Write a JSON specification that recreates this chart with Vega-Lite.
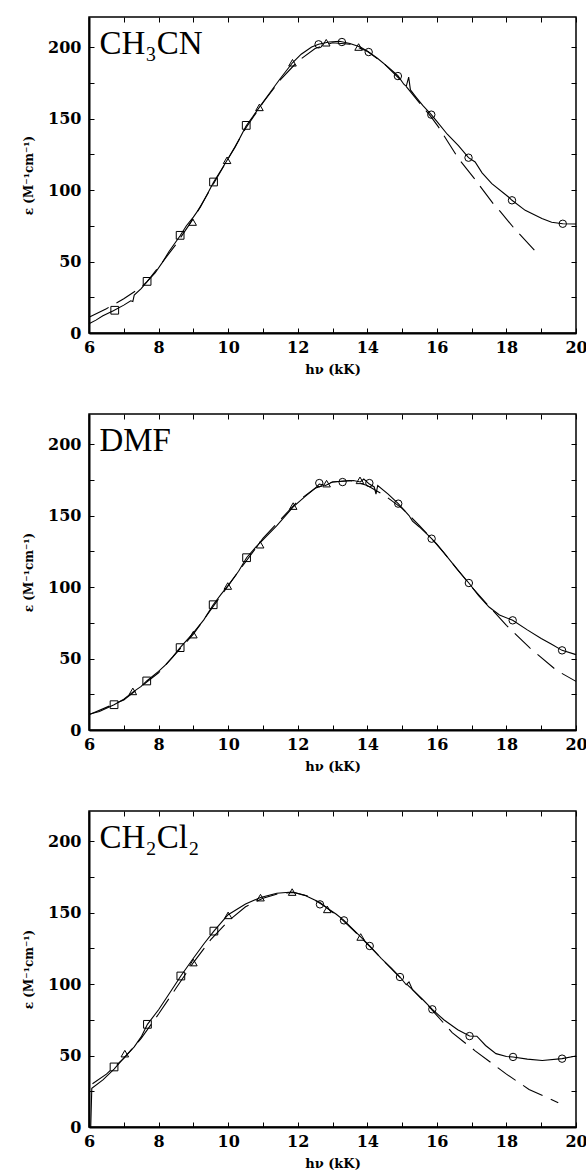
{
  "$schema": "https://vega.github.io/schema/vega-lite/v6.json",
  "padding": {"left": 21, "top": 15, "right": 6, "bottom": 0},
  "background": "white",
  "config": {
    "view": {"stroke": "black", "strokeWidth": 1.5},
    "axis": {"grid": false, "labelFlush": false, "labelOverlap": false, "labelBound": false}
  },
  "data": {"values": [
    {"panel":1,"series":"label","label":"CH₃CN"},
    {"panel":2,"series":"label","label":"DMF"},
    {"panel":3,"series":"label","label":"CH₂Cl₂"},

    {"panel":1,"series":"exp","hv":6.0,"eps":6.5},
    {"panel":1,"series":"exp","hv":6.2,"eps":9},
    {"panel":1,"series":"exp","hv":6.4,"eps":12},
    {"panel":1,"series":"exp","hv":6.7,"eps":15.5},
    {"panel":1,"series":"exp","hv":7.0,"eps":19.5},
    {"panel":1,"series":"exp","hv":7.2,"eps":22.5},
    {"panel":1,"series":"exp","hv":7.26,"eps":22},
    {"panel":1,"series":"exp","hv":7.3,"eps":26.5},
    {"panel":1,"series":"exp","hv":7.5,"eps":31},
    {"panel":1,"series":"exp","hv":7.67,"eps":36},
    {"panel":1,"series":"exp","hv":7.9,"eps":42},
    {"panel":1,"series":"exp","hv":8.1,"eps":49},
    {"panel":1,"series":"exp","hv":8.3,"eps":57},
    {"panel":1,"series":"exp","hv":8.62,"eps":68},
    {"panel":1,"series":"exp","hv":8.8,"eps":75},
    {"panel":1,"series":"exp","hv":9.0,"eps":81},
    {"panel":1,"series":"exp","hv":9.2,"eps":88},
    {"panel":1,"series":"exp","hv":9.4,"eps":97},
    {"panel":1,"series":"exp","hv":9.58,"eps":105.5},
    {"panel":1,"series":"exp","hv":9.8,"eps":114},
    {"panel":1,"series":"exp","hv":10.0,"eps":122},
    {"panel":1,"series":"exp","hv":10.2,"eps":130},
    {"panel":1,"series":"exp","hv":10.52,"eps":145},
    {"panel":1,"series":"exp","hv":10.7,"eps":151},
    {"panel":1,"series":"exp","hv":10.9,"eps":158},
    {"panel":1,"series":"exp","hv":11.2,"eps":168},
    {"panel":1,"series":"exp","hv":11.5,"eps":178},
    {"panel":1,"series":"exp","hv":11.85,"eps":189},
    {"panel":1,"series":"exp","hv":12.1,"eps":195},
    {"panel":1,"series":"exp","hv":12.4,"eps":200},
    {"panel":1,"series":"exp","hv":12.6,"eps":202},
    {"panel":1,"series":"exp","hv":12.9,"eps":203.5},
    {"panel":1,"series":"exp","hv":13.2,"eps":204},
    {"panel":1,"series":"exp","hv":13.5,"eps":202.5},
    {"panel":1,"series":"exp","hv":13.8,"eps":200},
    {"panel":1,"series":"exp","hv":14.04,"eps":196.5},
    {"panel":1,"series":"exp","hv":14.3,"eps":192},
    {"panel":1,"series":"exp","hv":14.6,"eps":186},
    {"panel":1,"series":"exp","hv":14.88,"eps":180},
    {"panel":1,"series":"exp","hv":15.05,"eps":174},
    {"panel":1,"series":"exp","hv":15.12,"eps":172.5},
    {"panel":1,"series":"exp","hv":15.19,"eps":179},
    {"panel":1,"series":"exp","hv":15.24,"eps":170},
    {"panel":1,"series":"exp","hv":15.4,"eps":165},
    {"panel":1,"series":"exp","hv":15.6,"eps":159},
    {"panel":1,"series":"exp","hv":15.84,"eps":152.7},
    {"panel":1,"series":"exp","hv":16.0,"eps":148},
    {"panel":1,"series":"exp","hv":16.3,"eps":139},
    {"panel":1,"series":"exp","hv":16.62,"eps":131},
    {"panel":1,"series":"exp","hv":16.91,"eps":122.6},
    {"panel":1,"series":"exp","hv":17.1,"eps":119.6},
    {"panel":1,"series":"exp","hv":17.3,"eps":112},
    {"panel":1,"series":"exp","hv":17.58,"eps":104.4},
    {"panel":1,"series":"exp","hv":18.06,"eps":95.1},
    {"panel":1,"series":"exp","hv":18.16,"eps":92.8},
    {"panel":1,"series":"exp","hv":18.54,"eps":85.8},
    {"panel":1,"series":"exp","hv":19.02,"eps":80},
    {"panel":1,"series":"exp","hv":19.3,"eps":77.5},
    {"panel":1,"series":"exp","hv":19.62,"eps":76.4},
    {"panel":1,"series":"exp","hv":20.0,"eps":76.2},

    {"panel":1,"series":"fit","hv":6.0,"eps":11},
    {"panel":1,"series":"fit","hv":6.5,"eps":17},
    {"panel":1,"series":"fit","hv":7.0,"eps":24},
    {"panel":1,"series":"fit","hv":7.5,"eps":32},
    {"panel":1,"series":"fit","hv":7.67,"eps":36},
    {"panel":1,"series":"fit","hv":8.0,"eps":46},
    {"panel":1,"series":"fit","hv":8.5,"eps":62},
    {"panel":1,"series":"fit","hv":9.0,"eps":80},
    {"panel":1,"series":"fit","hv":9.5,"eps":101},
    {"panel":1,"series":"fit","hv":10.0,"eps":122},
    {"panel":1,"series":"fit","hv":10.5,"eps":143},
    {"panel":1,"series":"fit","hv":11.0,"eps":161},
    {"panel":1,"series":"fit","hv":11.5,"eps":177},
    {"panel":1,"series":"fit","hv":12.0,"eps":190},
    {"panel":1,"series":"fit","hv":12.5,"eps":199},
    {"panel":1,"series":"fit","hv":13.0,"eps":203},
    {"panel":1,"series":"fit","hv":13.5,"eps":202},
    {"panel":1,"series":"fit","hv":14.0,"eps":197},
    {"panel":1,"series":"fit","hv":14.5,"eps":188},
    {"panel":1,"series":"fit","hv":15.0,"eps":176},
    {"panel":1,"series":"fit","hv":15.5,"eps":161},
    {"panel":1,"series":"fit","hv":15.84,"eps":151},
    {"panel":1,"series":"fit","hv":16.05,"eps":144},
    {"panel":1,"series":"fit","hv":16.62,"eps":122},
    {"panel":1,"series":"fit","hv":17.08,"eps":108},
    {"panel":1,"series":"fit","hv":17.62,"eps":90.4},
    {"panel":1,"series":"fit","hv":17.82,"eps":85},
    {"panel":1,"series":"fit","hv":18.23,"eps":73},
    {"panel":1,"series":"fit","hv":18.88,"eps":56},

    {"panel":1,"series":"square","hv":6.74,"eps":15.9},
    {"panel":1,"series":"square","hv":7.67,"eps":36.1},
    {"panel":1,"series":"square","hv":8.62,"eps":68.3},
    {"panel":1,"series":"square","hv":9.58,"eps":105.6},
    {"panel":1,"series":"square","hv":10.52,"eps":145.2},
    {"panel":1,"series":"triangle","hv":8.98,"eps":77.6},
    {"panel":1,"series":"triangle","hv":9.97,"eps":120.8},
    {"panel":1,"series":"triangle","hv":10.9,"eps":157.8},
    {"panel":1,"series":"triangle","hv":11.85,"eps":189},
    {"panel":1,"series":"triangle","hv":12.82,"eps":203},
    {"panel":1,"series":"triangle","hv":13.75,"eps":200},
    {"panel":1,"series":"circle","hv":12.6,"eps":201.9},
    {"panel":1,"series":"circle","hv":13.27,"eps":203.5},
    {"panel":1,"series":"circle","hv":14.04,"eps":196.5},
    {"panel":1,"series":"circle","hv":14.88,"eps":179.7},
    {"panel":1,"series":"circle","hv":15.84,"eps":152.7},
    {"panel":1,"series":"circle","hv":16.91,"eps":122.6},
    {"panel":1,"series":"circle","hv":18.16,"eps":92.8},
    {"panel":1,"series":"circle","hv":19.62,"eps":76.4},

    {"panel":2,"series":"exp","hv":6.0,"eps":11},
    {"panel":2,"series":"exp","hv":6.3,"eps":13},
    {"panel":2,"series":"exp","hv":6.72,"eps":17.7},
    {"panel":2,"series":"exp","hv":7.0,"eps":21.5},
    {"panel":2,"series":"exp","hv":7.26,"eps":26.5},
    {"panel":2,"series":"exp","hv":7.5,"eps":30.5},
    {"panel":2,"series":"exp","hv":7.66,"eps":34.3},
    {"panel":2,"series":"exp","hv":8.0,"eps":41},
    {"panel":2,"series":"exp","hv":8.2,"eps":45.5},
    {"panel":2,"series":"exp","hv":8.4,"eps":51},
    {"panel":2,"series":"exp","hv":8.62,"eps":57.6},
    {"panel":2,"series":"exp","hv":9.0,"eps":68},
    {"panel":2,"series":"exp","hv":9.3,"eps":77},
    {"panel":2,"series":"exp","hv":9.57,"eps":87.6},
    {"panel":2,"series":"exp","hv":9.8,"eps":95},
    {"panel":2,"series":"exp","hv":10.0,"eps":101},
    {"panel":2,"series":"exp","hv":10.3,"eps":111},
    {"panel":2,"series":"exp","hv":10.53,"eps":120.5},
    {"panel":2,"series":"exp","hv":10.8,"eps":128},
    {"panel":2,"series":"exp","hv":11.0,"eps":133},
    {"panel":2,"series":"exp","hv":11.4,"eps":143},
    {"panel":2,"series":"exp","hv":11.87,"eps":156},
    {"panel":2,"series":"exp","hv":12.2,"eps":163},
    {"panel":2,"series":"exp","hv":12.5,"eps":169},
    {"panel":2,"series":"exp","hv":12.62,"eps":172},
    {"panel":2,"series":"exp","hv":12.8,"eps":171},
    {"panel":2,"series":"exp","hv":13.0,"eps":173.5},
    {"panel":2,"series":"exp","hv":13.3,"eps":174},
    {"panel":2,"series":"exp","hv":13.6,"eps":174.5},
    {"panel":2,"series":"exp","hv":13.8,"eps":173.5},
    {"panel":2,"series":"exp","hv":13.9,"eps":175.5},
    {"panel":2,"series":"exp","hv":14.06,"eps":172},
    {"panel":2,"series":"exp","hv":14.2,"eps":170},
    {"panel":2,"series":"exp","hv":14.25,"eps":165},
    {"panel":2,"series":"exp","hv":14.3,"eps":171},
    {"panel":2,"series":"exp","hv":14.6,"eps":165},
    {"panel":2,"series":"exp","hv":14.89,"eps":158.3},
    {"panel":2,"series":"exp","hv":15.2,"eps":150},
    {"panel":2,"series":"exp","hv":15.3,"eps":146},
    {"panel":2,"series":"exp","hv":15.5,"eps":142},
    {"panel":2,"series":"exp","hv":15.85,"eps":133.8},
    {"panel":2,"series":"exp","hv":16.2,"eps":124},
    {"panel":2,"series":"exp","hv":16.6,"eps":112},
    {"panel":2,"series":"exp","hv":16.92,"eps":102.8},
    {"panel":2,"series":"exp","hv":17.2,"eps":94},
    {"panel":2,"series":"exp","hv":17.5,"eps":86},
    {"panel":2,"series":"exp","hv":17.8,"eps":80.5},
    {"panel":2,"series":"exp","hv":18.18,"eps":76.7},
    {"panel":2,"series":"exp","hv":18.6,"eps":70},
    {"panel":2,"series":"exp","hv":19.0,"eps":64},
    {"panel":2,"series":"exp","hv":19.3,"eps":60},
    {"panel":2,"series":"exp","hv":19.6,"eps":55.7},
    {"panel":2,"series":"exp","hv":20.0,"eps":52.7},

    {"panel":2,"series":"fit","hv":6.0,"eps":10.7},
    {"panel":2,"series":"fit","hv":7.0,"eps":21},
    {"panel":2,"series":"fit","hv":8.0,"eps":40},
    {"panel":2,"series":"fit","hv":9.0,"eps":67},
    {"panel":2,"series":"fit","hv":10.0,"eps":101},
    {"panel":2,"series":"fit","hv":11.0,"eps":134},
    {"panel":2,"series":"fit","hv":12.0,"eps":160},
    {"panel":2,"series":"fit","hv":12.5,"eps":169},
    {"panel":2,"series":"fit","hv":13.0,"eps":173.5},
    {"panel":2,"series":"fit","hv":13.5,"eps":174.5},
    {"panel":2,"series":"fit","hv":14.0,"eps":171},
    {"panel":2,"series":"fit","hv":14.5,"eps":164},
    {"panel":2,"series":"fit","hv":15.0,"eps":155},
    {"panel":2,"series":"fit","hv":15.5,"eps":143},
    {"panel":2,"series":"fit","hv":16.0,"eps":130},
    {"panel":2,"series":"fit","hv":16.5,"eps":115},
    {"panel":2,"series":"fit","hv":17.0,"eps":100},
    {"panel":2,"series":"fit","hv":17.5,"eps":86.5},
    {"panel":2,"series":"fit","hv":18.0,"eps":73.2},
    {"panel":2,"series":"fit","hv":18.68,"eps":57.3},
    {"panel":2,"series":"fit","hv":19.44,"eps":41.7},
    {"panel":2,"series":"fit","hv":20.0,"eps":34},

    {"panel":2,"series":"square","hv":6.72,"eps":17.7},
    {"panel":2,"series":"square","hv":7.66,"eps":34.3},
    {"panel":2,"series":"square","hv":8.62,"eps":57.6},
    {"panel":2,"series":"square","hv":9.57,"eps":87.6},
    {"panel":2,"series":"square","hv":10.53,"eps":120.5},
    {"panel":2,"series":"triangle","hv":7.26,"eps":27},
    {"panel":2,"series":"triangle","hv":9.0,"eps":66.7},
    {"panel":2,"series":"triangle","hv":9.99,"eps":100.7},
    {"panel":2,"series":"triangle","hv":10.92,"eps":129.6},
    {"panel":2,"series":"triangle","hv":11.87,"eps":156.6},
    {"panel":2,"series":"triangle","hv":12.83,"eps":172.3},
    {"panel":2,"series":"triangle","hv":13.79,"eps":174.6},
    {"panel":2,"series":"circle","hv":12.62,"eps":172.7},
    {"panel":2,"series":"circle","hv":13.29,"eps":173.4},
    {"panel":2,"series":"circle","hv":14.06,"eps":172.7},
    {"panel":2,"series":"circle","hv":14.89,"eps":158.3},
    {"panel":2,"series":"circle","hv":15.85,"eps":133.8},
    {"panel":2,"series":"circle","hv":16.92,"eps":102.8},
    {"panel":2,"series":"circle","hv":18.18,"eps":76.7},
    {"panel":2,"series":"circle","hv":19.6,"eps":55.7},

    {"panel":3,"series":"exp","hv":6.05,"eps":0},
    {"panel":3,"series":"exp","hv":6.08,"eps":27},
    {"panel":3,"series":"exp","hv":6.4,"eps":33},
    {"panel":3,"series":"exp","hv":6.72,"eps":40.5},
    {"panel":3,"series":"exp","hv":7.03,"eps":49},
    {"panel":3,"series":"exp","hv":7.3,"eps":56},
    {"panel":3,"series":"exp","hv":7.5,"eps":63},
    {"panel":3,"series":"exp","hv":7.68,"eps":71.8},
    {"panel":3,"series":"exp","hv":8.0,"eps":82},
    {"panel":3,"series":"exp","hv":8.3,"eps":93},
    {"panel":3,"series":"exp","hv":8.64,"eps":105.6},
    {"panel":3,"series":"exp","hv":9.0,"eps":118},
    {"panel":3,"series":"exp","hv":9.3,"eps":128},
    {"panel":3,"series":"exp","hv":9.59,"eps":137},
    {"panel":3,"series":"exp","hv":9.8,"eps":143},
    {"panel":3,"series":"exp","hv":10.0,"eps":148.5},
    {"panel":3,"series":"exp","hv":10.5,"eps":156},
    {"panel":3,"series":"exp","hv":10.93,"eps":160.5},
    {"panel":3,"series":"exp","hv":11.4,"eps":163.5},
    {"panel":3,"series":"exp","hv":11.84,"eps":164.3},
    {"panel":3,"series":"exp","hv":12.2,"eps":162},
    {"panel":3,"series":"exp","hv":12.64,"eps":157},
    {"panel":3,"series":"exp","hv":12.85,"eps":153},
    {"panel":3,"series":"exp","hv":13.1,"eps":149},
    {"panel":3,"series":"exp","hv":13.33,"eps":144.5},
    {"panel":3,"series":"exp","hv":13.6,"eps":138},
    {"panel":3,"series":"exp","hv":13.81,"eps":132.9},
    {"panel":3,"series":"exp","hv":14.07,"eps":126.6},
    {"panel":3,"series":"exp","hv":14.4,"eps":118},
    {"panel":3,"series":"exp","hv":14.7,"eps":111},
    {"panel":3,"series":"exp","hv":14.94,"eps":104.9},
    {"panel":3,"series":"exp","hv":15.12,"eps":99.5},
    {"panel":3,"series":"exp","hv":15.2,"eps":101.5},
    {"panel":3,"series":"exp","hv":15.3,"eps":96},
    {"panel":3,"series":"exp","hv":15.6,"eps":89},
    {"panel":3,"series":"exp","hv":15.87,"eps":82.3},
    {"panel":3,"series":"exp","hv":16.2,"eps":75},
    {"panel":3,"series":"exp","hv":16.6,"eps":68},
    {"panel":3,"series":"exp","hv":16.94,"eps":63.6},
    {"panel":3,"series":"exp","hv":17.15,"eps":63.5},
    {"panel":3,"series":"exp","hv":17.4,"eps":57},
    {"panel":3,"series":"exp","hv":17.7,"eps":51.3},
    {"panel":3,"series":"exp","hv":18.0,"eps":49.3},
    {"panel":3,"series":"exp","hv":18.19,"eps":49},
    {"panel":3,"series":"exp","hv":18.6,"eps":47.5},
    {"panel":3,"series":"exp","hv":19.03,"eps":46.5},
    {"panel":3,"series":"exp","hv":19.6,"eps":47.8},
    {"panel":3,"series":"exp","hv":20.0,"eps":49.7},

    {"panel":3,"series":"fit","hv":6.1,"eps":30.3},
    {"panel":3,"series":"fit","hv":6.5,"eps":37},
    {"panel":3,"series":"fit","hv":7.0,"eps":48},
    {"panel":3,"series":"fit","hv":7.5,"eps":62},
    {"panel":3,"series":"fit","hv":8.0,"eps":79},
    {"panel":3,"series":"fit","hv":8.5,"eps":97},
    {"panel":3,"series":"fit","hv":9.0,"eps":115},
    {"panel":3,"series":"fit","hv":9.5,"eps":131},
    {"panel":3,"series":"fit","hv":10.0,"eps":144},
    {"panel":3,"series":"fit","hv":10.5,"eps":154},
    {"panel":3,"series":"fit","hv":11.0,"eps":160},
    {"panel":3,"series":"fit","hv":11.5,"eps":163.5},
    {"panel":3,"series":"fit","hv":11.9,"eps":164},
    {"panel":3,"series":"fit","hv":12.3,"eps":161.5},
    {"panel":3,"series":"fit","hv":12.8,"eps":154},
    {"panel":3,"series":"fit","hv":13.3,"eps":144.5},
    {"panel":3,"series":"fit","hv":13.8,"eps":133},
    {"panel":3,"series":"fit","hv":14.3,"eps":120.5},
    {"panel":3,"series":"fit","hv":14.8,"eps":108},
    {"panel":3,"series":"fit","hv":15.3,"eps":96},
    {"panel":3,"series":"fit","hv":15.8,"eps":83.5},
    {"panel":3,"series":"fit","hv":16.44,"eps":66},
    {"panel":3,"series":"fit","hv":17.11,"eps":53.1},
    {"panel":3,"series":"fit","hv":17.98,"eps":37.3},
    {"panel":3,"series":"fit","hv":18.65,"eps":26.3},
    {"panel":3,"series":"fit","hv":19.49,"eps":17},

    {"panel":3,"series":"square","hv":6.72,"eps":42},
    {"panel":3,"series":"square","hv":7.68,"eps":71.8},
    {"panel":3,"series":"square","hv":8.64,"eps":105.6},
    {"panel":3,"series":"square","hv":9.59,"eps":137},
    {"panel":3,"series":"triangle","hv":7.03,"eps":51.3},
    {"panel":3,"series":"triangle","hv":9.0,"eps":115},
    {"panel":3,"series":"triangle","hv":10.0,"eps":148},
    {"panel":3,"series":"triangle","hv":10.93,"eps":160.4},
    {"panel":3,"series":"triangle","hv":11.84,"eps":164.3},
    {"panel":3,"series":"triangle","hv":12.85,"eps":152.2},
    {"panel":3,"series":"triangle","hv":13.81,"eps":132.9},
    {"panel":3,"series":"circle","hv":12.64,"eps":155.7},
    {"panel":3,"series":"circle","hv":13.33,"eps":144.5},
    {"panel":3,"series":"circle","hv":14.07,"eps":126.6},
    {"panel":3,"series":"circle","hv":14.94,"eps":104.9},
    {"panel":3,"series":"circle","hv":15.87,"eps":82.3},
    {"panel":3,"series":"circle","hv":16.94,"eps":63.6},
    {"panel":3,"series":"circle","hv":18.19,"eps":49},
    {"panel":3,"series":"circle","hv":19.6,"eps":47.8}
  ]},
  "spacing": 35,
  "vconcat": [
    {
      "width": 487, "height": 316,
      "layer": [
        {"transform": [{"filter": "datum.panel == 1 && datum.series == 'exp'"}],
         "mark": {"type": "line", "color": "black", "strokeWidth": 1.1},
         "encoding": {
           "x": {"field": "hv", "type": "quantitative", "scale": {"domain": [6, 20], "nice": false, "zero": false},
                 "axis": {"orient": "bottom", "values": [6,7,8,9,10,11,12,13,14,15,16,17,18,19,20], "labelExpr": "datum.value % 2 == 0 ? datum.label : ''", "tickSize": -5, "tickColor": "black", "domainColor": "black", "domainWidth": 2, "labelFont": "DejaVu Serif", "labelFontWeight": "bold", "labelFontSize": 16, "labelColor": "black", "labelPadding": 11, "title": "hν (kK)", "titleFont": "DejaVu Serif", "titleFontWeight": "bold", "titleFontSize": 13, "titleColor": "black", "titlePadding": 8}},
           "y": {"field": "eps", "type": "quantitative", "scale": {"domain": [0, 221], "nice": false},
                 "axis": {"orient": "left", "values": [0,25,50,75,100,125,150,175,200], "labelExpr": "datum.value % 50 == 0 ? datum.label : ''", "tickSize": -5, "tickColor": "black", "domainColor": "black", "domainWidth": 2, "labelFont": "DejaVu Serif", "labelFontWeight": "bold", "labelFontSize": 16, "labelColor": "black", "labelPadding": 13, "title": "ε (M⁻¹cm⁻¹)", "titleFont": "DejaVu Serif", "titleFontWeight": "bold", "titleFontSize": 12, "titleColor": "black", "titlePadding": 12}}
         }},
        {"transform": [{"filter": "datum.panel == 1 && datum.series == 'fit'"}],
         "mark": {"type": "line", "color": "black", "strokeWidth": 1.1, "strokeDash": [22, 9]},
         "encoding": {
           "x": {"field": "hv", "type": "quantitative", "axis": {"orient": "top", "values": [6,7,8,9,10,11,12,13,14,15,16,17,18,19,20], "labels": false, "domain": false, "tickSize": -5, "tickColor": "black", "title": null}},
           "y": {"field": "eps", "type": "quantitative", "axis": {"orient": "right", "values": [0,25,50,75,100,125,150,175,200], "labels": false, "domain": false, "tickSize": -5, "tickColor": "black", "title": null}}
         }},
        {"transform": [{"filter": "datum.panel == 1 && (datum.series == 'square' || datum.series == 'triangle' || datum.series == 'circle')"}],
         "mark": {"type": "point", "filled": false, "color": "black", "strokeWidth": 1, "opacity": 1},
         "encoding": {
           "x": {"field": "hv", "type": "quantitative", "axis": null},
           "y": {"field": "eps", "type": "quantitative", "axis": null},
           "shape": {"field": "series", "type": "nominal", "scale": {"domain": ["square", "triangle", "circle"], "range": ["square", "triangle-up", "circle"]}, "legend": null},
           "size": {"field": "series", "type": "nominal", "scale": {"domain": ["square", "triangle", "circle"], "range": [60, 55, 48]}, "legend": null}
         }},
        {"transform": [{"filter": "datum.panel == 1 && datum.series == 'label'"}],
         "mark": {"type": "text", "font": "Liberation Serif", "fontSize": 33, "align": "left", "baseline": "alphabetic", "color": "black"},
         "encoding": {
           "x": {"datum": 6.3, "type": "quantitative", "axis": null},
           "y": {"datum": 195, "type": "quantitative", "axis": null},
           "text": {"field": "label", "type": "nominal"}
         }}
      ],
      "resolve": {"axis": {"x": "independent", "y": "independent"}}
    },
    {
      "width": 487, "height": 316,
      "layer": [
        {"transform": [{"filter": "datum.panel == 2 && datum.series == 'exp'"}],
         "mark": {"type": "line", "color": "black", "strokeWidth": 1.1},
         "encoding": {
           "x": {"field": "hv", "type": "quantitative", "scale": {"domain": [6, 20], "nice": false, "zero": false},
                 "axis": {"orient": "bottom", "values": [6,7,8,9,10,11,12,13,14,15,16,17,18,19,20], "labelExpr": "datum.value % 2 == 0 ? datum.label : ''", "tickSize": -5, "tickColor": "black", "domainColor": "black", "domainWidth": 2, "labelFont": "DejaVu Serif", "labelFontWeight": "bold", "labelFontSize": 16, "labelColor": "black", "labelPadding": 11, "title": "hν (kK)", "titleFont": "DejaVu Serif", "titleFontWeight": "bold", "titleFontSize": 13, "titleColor": "black", "titlePadding": 8}},
           "y": {"field": "eps", "type": "quantitative", "scale": {"domain": [0, 221], "nice": false},
                 "axis": {"orient": "left", "values": [0,25,50,75,100,125,150,175,200], "labelExpr": "datum.value % 50 == 0 ? datum.label : ''", "tickSize": -5, "tickColor": "black", "domainColor": "black", "domainWidth": 2, "labelFont": "DejaVu Serif", "labelFontWeight": "bold", "labelFontSize": 16, "labelColor": "black", "labelPadding": 13, "title": "ε (M⁻¹cm⁻¹)", "titleFont": "DejaVu Serif", "titleFontWeight": "bold", "titleFontSize": 12, "titleColor": "black", "titlePadding": 12}}
         }},
        {"transform": [{"filter": "datum.panel == 2 && datum.series == 'fit'"}],
         "mark": {"type": "line", "color": "black", "strokeWidth": 1.1, "strokeDash": [22, 9]},
         "encoding": {
           "x": {"field": "hv", "type": "quantitative", "axis": {"orient": "top", "values": [6,7,8,9,10,11,12,13,14,15,16,17,18,19,20], "labels": false, "domain": false, "tickSize": -5, "tickColor": "black", "title": null}},
           "y": {"field": "eps", "type": "quantitative", "axis": {"orient": "right", "values": [0,25,50,75,100,125,150,175,200], "labels": false, "domain": false, "tickSize": -5, "tickColor": "black", "title": null}}
         }},
        {"transform": [{"filter": "datum.panel == 2 && (datum.series == 'square' || datum.series == 'triangle' || datum.series == 'circle')"}],
         "mark": {"type": "point", "filled": false, "color": "black", "strokeWidth": 1, "opacity": 1},
         "encoding": {
           "x": {"field": "hv", "type": "quantitative", "axis": null},
           "y": {"field": "eps", "type": "quantitative", "axis": null},
           "shape": {"field": "series", "type": "nominal", "scale": {"domain": ["square", "triangle", "circle"], "range": ["square", "triangle-up", "circle"]}, "legend": null},
           "size": {"field": "series", "type": "nominal", "scale": {"domain": ["square", "triangle", "circle"], "range": [60, 55, 48]}, "legend": null}
         }},
        {"transform": [{"filter": "datum.panel == 2 && datum.series == 'label'"}],
         "mark": {"type": "text", "font": "Liberation Serif", "fontSize": 33, "align": "left", "baseline": "alphabetic", "color": "black"},
         "encoding": {
           "x": {"datum": 6.3, "type": "quantitative", "axis": null},
           "y": {"datum": 195, "type": "quantitative", "axis": null},
           "text": {"field": "label", "type": "nominal"}
         }}
      ],
      "resolve": {"axis": {"x": "independent", "y": "independent"}}
    },
    {
      "width": 487, "height": 316,
      "layer": [
        {"transform": [{"filter": "datum.panel == 3 && datum.series == 'exp'"}],
         "mark": {"type": "line", "color": "black", "strokeWidth": 1.1},
         "encoding": {
           "x": {"field": "hv", "type": "quantitative", "scale": {"domain": [6, 20], "nice": false, "zero": false},
                 "axis": {"orient": "bottom", "values": [6,7,8,9,10,11,12,13,14,15,16,17,18,19,20], "labelExpr": "datum.value % 2 == 0 ? datum.label : ''", "tickSize": -5, "tickColor": "black", "domainColor": "black", "domainWidth": 2, "labelFont": "DejaVu Serif", "labelFontWeight": "bold", "labelFontSize": 16, "labelColor": "black", "labelPadding": 11, "title": "hν (kK)", "titleFont": "DejaVu Serif", "titleFontWeight": "bold", "titleFontSize": 13, "titleColor": "black", "titlePadding": 8}},
           "y": {"field": "eps", "type": "quantitative", "scale": {"domain": [0, 221], "nice": false},
                 "axis": {"orient": "left", "values": [0,25,50,75,100,125,150,175,200], "labelExpr": "datum.value % 50 == 0 ? datum.label : ''", "tickSize": -5, "tickColor": "black", "domainColor": "black", "domainWidth": 2, "labelFont": "DejaVu Serif", "labelFontWeight": "bold", "labelFontSize": 16, "labelColor": "black", "labelPadding": 13, "title": "ε (M⁻¹cm⁻¹)", "titleFont": "DejaVu Serif", "titleFontWeight": "bold", "titleFontSize": 12, "titleColor": "black", "titlePadding": 12}}
         }},
        {"transform": [{"filter": "datum.panel == 3 && datum.series == 'fit'"}],
         "mark": {"type": "line", "color": "black", "strokeWidth": 1.1, "strokeDash": [22, 9]},
         "encoding": {
           "x": {"field": "hv", "type": "quantitative", "axis": {"orient": "top", "values": [6,7,8,9,10,11,12,13,14,15,16,17,18,19,20], "labels": false, "domain": false, "tickSize": -5, "tickColor": "black", "title": null}},
           "y": {"field": "eps", "type": "quantitative", "axis": {"orient": "right", "values": [0,25,50,75,100,125,150,175,200], "labels": false, "domain": false, "tickSize": -5, "tickColor": "black", "title": null}}
         }},
        {"transform": [{"filter": "datum.panel == 3 && (datum.series == 'square' || datum.series == 'triangle' || datum.series == 'circle')"}],
         "mark": {"type": "point", "filled": false, "color": "black", "strokeWidth": 1, "opacity": 1},
         "encoding": {
           "x": {"field": "hv", "type": "quantitative", "axis": null},
           "y": {"field": "eps", "type": "quantitative", "axis": null},
           "shape": {"field": "series", "type": "nominal", "scale": {"domain": ["square", "triangle", "circle"], "range": ["square", "triangle-up", "circle"]}, "legend": null},
           "size": {"field": "series", "type": "nominal", "scale": {"domain": ["square", "triangle", "circle"], "range": [60, 55, 48]}, "legend": null}
         }},
        {"transform": [{"filter": "datum.panel == 3 && datum.series == 'label'"}],
         "mark": {"type": "text", "font": "Liberation Serif", "fontSize": 33, "align": "left", "baseline": "alphabetic", "color": "black"},
         "encoding": {
           "x": {"datum": 6.3, "type": "quantitative", "axis": null},
           "y": {"datum": 195, "type": "quantitative", "axis": null},
           "text": {"field": "label", "type": "nominal"}
         }}
      ],
      "resolve": {"axis": {"x": "independent", "y": "independent"}}
    }
  ]
}
